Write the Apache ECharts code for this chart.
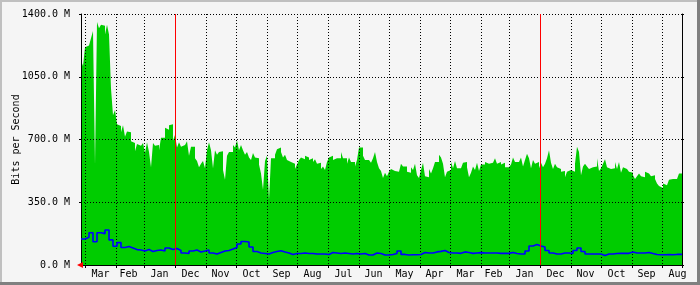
<!DOCTYPE html>
<html><head><meta charset="utf-8">
<script src="https://cdn.jsdelivr.net/npm/echarts@6/dist/echarts.min.js"></script>
<style>html,body{margin:0;padding:0;background:#f5f5f5}#c{width:700px;height:285px}</style>
</head><body><div id="c"></div>
<script>
// ---- data ----
const monthNames = ['Jan','Feb','Mar','Apr','May','Jun','Jul','Aug','Sep','Oct','Nov','Dec'];
const yTickValues = [0, 350, 700, 1050, 1400];
const newestDay = [2011, 3, 4];   // year, month index, day (leftmost column)
const dayCount = 601;             // one column per day, newest on the left
const inStepDays = 2;             // days covered by each incoming sample
const outStepDays = 4;            // days covered by each outgoing sample

// incoming traffic (Mbit/s), newest first
const inBits = [
 1140,1110,1215,1225,1235,1265,1305,560,1355,1320,
 1340,1335,1285,1340,1285,985,835,865,785,775,
 740,780,715,745,740,690,680,635,675,665,
 655,680,625,685,630,545,680,665,670,640,
 710,710,765,755,780,785,695,725,655,685,
 660,670,670,690,610,660,660,595,580,545,
 565,580,540,640,685,640,540,640,615,630,
 635,530,475,610,630,630,670,655,695,640,
 670,640,615,630,600,585,625,600,595,560,
 510,420,580,610,365,595,595,615,645,655,
 630,600,615,585,575,575,565,535,560,585,
 600,590,610,600,585,595,575,590,565,570,
 535,550,530,575,600,610,585,595,585,595,
 630,595,595,565,600,575,575,550,585,655,
 655,610,585,585,575,570,595,630,575,540,
 525,485,515,495,520,535,525,525,520,525,
 565,550,550,520,515,545,530,565,500,485,
 530,570,495,490,535,510,540,575,575,615,
 600,565,490,520,530,575,540,580,540,540,
 535,570,575,545,490,515,550,530,570,525,
 560,560,575,565,570,570,565,595,565,575,
 560,570,545,545,535,560,600,575,575,570,
 600,550,585,620,595,540,585,565,575,540,
 570,545,565,595,640,570,535,565,545,535,
 520,525,490,520,530,520,520,565,660,630,
 500,550,565,550,535,545,535,550,595,525,
 540,565,590,545,535,525,540,575,535,575,
 515,545,535,525,520,515,500,480,495,510,
 495,490,520,510,500,495,500,480,455,440,
 430,455,445,445,475,480,475,480,490,510
];
// outgoing traffic (Mbit/s), newest first
const outBits = [
 145,155,180,130,180,175,195,140,105,125,
 98,103,95,86,84,78,86,75,81,84,
 78,95,86,92,81,67,64,78,84,73,
 78,84,67,61,70,78,81,89,98,117,
 131,128,100,75,67,64,61,70,75,80,
 73,67,59,64,64,67,64,64,61,61,
 61,59,70,67,64,67,64,61,64,61,
 64,56,56,67,64,56,56,59,64,78,
 59,56,57,57,59,70,67,67,73,76,
 81,70,67,67,65,73,70,65,67,69,
 67,67,67,67,65,65,65,70,64,61,
 61,78,106,114,106,100,81,67,61,61,
 67,67,64,81,95,75,61,61,61,61,
 53,61,61,64,65,65,65,73,67,67,
 67,70,64,59,57,57,59,57,59,59,59
];

// ---- build axes ----
const DAY = 86400000;
const t0 = Date.UTC(newestDay[0], newestDay[1], newestDay[2]);
const days = [];
for (let i = 0; i < dayCount; i++) days.push(new Date(t0 - i * DAY));
const cats = days.map(d => d.toISOString().slice(0, 10));
const isMonthEdge = (i) => i > 0 && days[i - 1].getUTCDate() === 1;
const isMidMonth = (i) => days[i].getUTCDate() === 16;
const yearEdges = [];
for (let i = 1; i < dayCount; i++) {
  if (days[i - 1].getUTCDate() === 1 && days[i - 1].getUTCMonth() === 0) yearEdges.push(i);
}
const inData = inBits.map((v, k) => [k * inStepDays, v]);
inData.push([dayCount, inBits[inBits.length - 1]]);
const outData = outBits.map((v, k) => [Math.min(k * outStepDays, dayCount), v]);
outData.push([dayCount, outBits[outBits.length - 1]]);

const font = { fontFamily: 'DejaVu Sans Mono', fontSize: 10, color: '#000' };
const dotted = { color: '#000', width: 1, type: [1, 2] };

const chart = echarts.init(document.getElementById('c'), null, { renderer: 'canvas' });
chart.setOption({
  backgroundColor: '#f5f5f5',
  animation: false,
  grid: { left: 81, top: 14, width: 601, height: 251, show: false, containLabel: false, outerBoundsMode: 'none' },
  xAxis: [
    {
      type: 'category', data: cats, boundaryGap: true, position: 'bottom', z: 3,
      axisLine: { show: true, lineStyle: { color: '#000', width: 1 } },
      axisTick: { show: true, interval: isMonthEdge, length: 3, lineStyle: { color: '#000' } },
      splitLine: { show: true, interval: isMonthEdge, lineStyle: dotted },
      axisLabel: Object.assign({ interval: isMidMonth, margin: 4,
        formatter: v => monthNames[parseInt(v.slice(5, 7), 10) - 1] }, font)
    },
    {
      type: 'value', min: 0, max: dayCount, position: 'top', z: 3,
      axisLine: { show: true, lineStyle: { color: '#000', width: 1 } },
      axisTick: { show: false }, axisLabel: { show: false }, splitLine: { show: false }
    }
  ],
  yAxis: [
    {
      type: 'value', min: yTickValues[0], max: yTickValues[yTickValues.length - 1],
      interval: yTickValues[1] - yTickValues[0], z: 3,
      name: 'Bits per Second', nameLocation: 'middle', nameGap: 60, nameMoveOverlap: false,
      nameTextStyle: font,
      axisLine: { show: true, lineStyle: { color: '#000', width: 1 } },
      axisTick: { show: true, length: 2, lineStyle: { color: '#000' } },
      splitLine: { show: true, lineStyle: dotted },
      axisLabel: Object.assign({ margin: 11, formatter: v => v.toFixed(1) + ' M' }, font)
    },
    {
      type: 'value', position: 'right', min: yTickValues[0], max: yTickValues[yTickValues.length - 1],
      interval: yTickValues[1] - yTickValues[0], z: 3,
      axisLine: { show: true, lineStyle: { color: '#000', width: 1 } },
      axisTick: { show: true, length: 2, lineStyle: { color: '#000' } },
      splitLine: { show: false }, axisLabel: { show: false }
    }
  ],
  series: [
    {
      type: 'line', xAxisIndex: 1, yAxisIndex: 0, data: inData, step: 'end',
      showSymbol: false, symbol: 'none', z: 2, silent: true,
      lineStyle: { width: 0, color: '#00cc00' },
      areaStyle: { color: '#00cc00', opacity: 1 }
    },
    {
      type: 'line', xAxisIndex: 1, yAxisIndex: 0, data: outData, step: 'end',
      showSymbol: false, symbol: 'none', z: 4, silent: true,
      lineStyle: { width: 1.6, color: '#0000ff' },
      markLine: {
        silent: true, symbol: 'none', label: { show: false },
        lineStyle: { color: '#ff0000', width: 1, type: 'solid' },
        data: yearEdges.map(i => ({ xAxis: i + 0.5 }))
      }
    }
  ]
});
const o = chart.convertToPixel({ xAxisIndex: 1, yAxisIndex: 0 }, [0, 0]);
chart.setOption({
  graphic: [
    { type: 'rect', shape: { x: 0, y: 0, width: 700, height: 2 }, style: { fill: '#c0c0c0' }, silent: true },
    { type: 'rect', shape: { x: 0, y: 0, width: 2, height: 285 }, style: { fill: '#c0c0c0' }, silent: true },
    { type: 'rect', shape: { x: 0, y: 282, width: 700, height: 3 }, style: { fill: '#808080' }, silent: true },
    { type: 'rect', shape: { x: 697, y: 0, width: 3, height: 285 }, style: { fill: '#808080' }, silent: true },
    { type: 'polygon', shape: { points: [[o[0] - 4, o[1]], [o[0] + 2, o[1] - 3], [o[0] + 2, o[1] + 3]] },
      style: { fill: '#ff0000' }, z: 10, silent: true }
  ]
});
</script></body></html>
